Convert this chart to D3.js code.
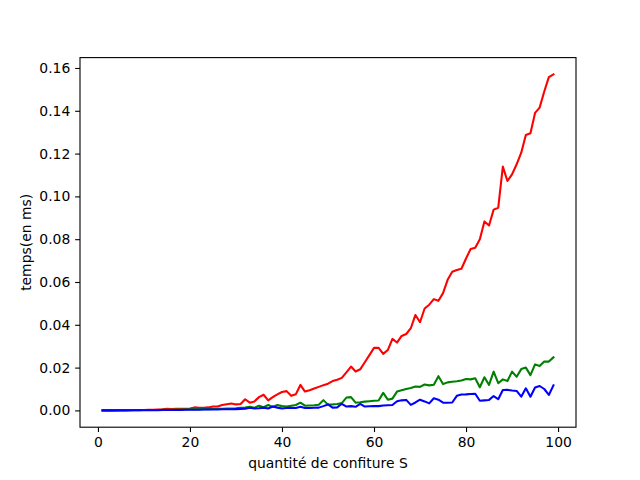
<!DOCTYPE html>
<html>
<head>
<meta charset="utf-8">
<script src="https://cdn.jsdelivr.net/npm/d3@7"></script>
<style>
  body { margin: 0; background: #fff; }
  svg { display: block; font-family: "DejaVu Sans", sans-serif; }
</style>
</head>
<body>
<svg id="chart" width="640" height="480"></svg>
<script>
// quantité de confiture S = 1..99
const sizes = d3.range(1, 100);

// temps (en ms) for the three versions
const redTimes = [
  0.0000, 0.0000, 0.0000, 0.0001, 0.0001, 0.0001, 0.0001, 0.0002, 0.0002, 0.0002,
  0.0003, 0.0003, 0.0004, 0.0005, 0.0007, 0.0006, 0.0007, 0.0007, 0.0008, 0.0009,
  0.0014, 0.0012, 0.0012, 0.0014, 0.0018, 0.0018, 0.0025, 0.0029, 0.0032, 0.0028,
  0.0030, 0.0052, 0.0036, 0.0042, 0.0062, 0.0073, 0.0047, 0.0062, 0.0075, 0.0086,
  0.0090, 0.0068, 0.0075, 0.0119, 0.0088, 0.0094, 0.0102, 0.0110, 0.0118, 0.0125,
  0.0137, 0.0143, 0.0152, 0.0178, 0.0205, 0.0182, 0.0192, 0.0225, 0.0258, 0.0292,
  0.0292, 0.0264, 0.0282, 0.0334, 0.0317, 0.0348, 0.0357, 0.0384, 0.0446, 0.0412,
  0.0476, 0.0494, 0.0520, 0.0512, 0.0548, 0.0610, 0.0648, 0.0656, 0.0662, 0.0710,
  0.0754, 0.0760, 0.0800, 0.0883, 0.0864, 0.0938, 0.0947, 0.1139, 0.1072, 0.1103,
  0.1150, 0.1204, 0.1287, 0.1295, 0.1390, 0.1415, 0.1490, 0.1557, 0.1570
];

const greenTimes = [
  0.0000, 0.0000, 0.0000, 0.0000, 0.0001, 0.0001, 0.0001, 0.0001, 0.0001, 0.0002,
  0.0002, 0.0002, 0.0002, 0.0003, 0.0003, 0.0003, 0.0004, 0.0004, 0.0004, 0.0005,
  0.0005, 0.0006, 0.0006, 0.0006, 0.0007, 0.0007, 0.0008, 0.0009, 0.0009, 0.0010,
  0.0012, 0.0013, 0.0017, 0.0012, 0.0022, 0.0015, 0.0025, 0.0016, 0.0025, 0.0020,
  0.0018, 0.0022, 0.0025, 0.0036, 0.0022, 0.0023, 0.0024, 0.0026, 0.0048, 0.0027,
  0.0028, 0.0030, 0.0034, 0.0060, 0.0062, 0.0036, 0.0038, 0.0041, 0.0043, 0.0045,
  0.0046, 0.0082, 0.0050, 0.0055, 0.0088, 0.0094, 0.0100, 0.0105, 0.0112, 0.0110,
  0.0121, 0.0117, 0.0120, 0.0160, 0.0123, 0.0131, 0.0134, 0.0136, 0.0140, 0.0147,
  0.0145, 0.0150, 0.0108, 0.0155, 0.0119, 0.0181, 0.0127, 0.0145, 0.0137, 0.0181,
  0.0157, 0.0193, 0.0200, 0.0165, 0.0215, 0.0207, 0.0228, 0.0228, 0.0248
];

const blueTimes = [
  0.0000, 0.0000, 0.0000, 0.0000, 0.0000, 0.0000, 0.0001, 0.0001, 0.0001, 0.0001,
  0.0001, 0.0001, 0.0001, 0.0002, 0.0002, 0.0002, 0.0002, 0.0002, 0.0003, 0.0003,
  0.0003, 0.0003, 0.0004, 0.0004, 0.0004, 0.0004, 0.0005, 0.0005, 0.0005, 0.0006,
  0.0007, 0.0008, 0.0012, 0.0009, 0.0010, 0.0013, 0.0009, 0.0018, 0.0013, 0.0009,
  0.0011, 0.0012, 0.0011, 0.0017, 0.0011, 0.0011, 0.0012, 0.0013, 0.0020, 0.0028,
  0.0013, 0.0014, 0.0031, 0.0018, 0.0020, 0.0017, 0.0031, 0.0018, 0.0019, 0.0020,
  0.0020, 0.0023, 0.0024, 0.0025, 0.0043, 0.0047, 0.0049, 0.0026, 0.0037, 0.0050,
  0.0042, 0.0033, 0.0057, 0.0050, 0.0036, 0.0036, 0.0037, 0.0068, 0.0074, 0.0075,
  0.0077, 0.0078, 0.0045, 0.0047, 0.0049, 0.0067, 0.0052, 0.0095, 0.0096, 0.0093,
  0.0091, 0.0064, 0.0103, 0.0064, 0.0107, 0.0114, 0.0100, 0.0072, 0.0117
];

const xTicks = [0, 20, 40, 60, 80, 100];
const yTicks = [0, 0.02, 0.04, 0.06, 0.08, 0.10, 0.12, 0.14, 0.16];

const series = [
  { values: redTimes, color: "#ff0000" },
  { values: greenTimes, color: "#008000" },
  { values: blueTimes, color: "#0000ff" }
];

// matplotlib default subplot box
const margin = { left: 80, right: 64, top: 57.6, bottom: 52.8 };
const width = 640, height = 480;

const svg = d3.select("#chart");

// 5% padding like matplotlib autoscale
const xMin = d3.min(sizes), xMax = d3.max(sizes);
const xPad = (xMax - xMin) * 0.05;
const allVals = redTimes.concat(greenTimes, blueTimes);
const yMin = d3.min(allVals), yMax = d3.max(allVals);
const yPad = (yMax - yMin) * 0.05;

const x = d3.scaleLinear()
  .domain([xMin - xPad, xMax + xPad])
  .range([margin.left, width - margin.right]);
const y = d3.scaleLinear()
  .domain([yMin - yPad, yMax + yPad])
  .range([height - margin.bottom, margin.top]);

const line = d3.line()
  .x((d, i) => x(sizes[i]))
  .y(d => y(d));

svg.append("g")
  .selectAll("path")
  .data(series)
  .join("path")
    .attr("fill", "none")
    .attr("stroke", d => d.color)
    .attr("stroke-width", 2.08)
    .attr("stroke-linejoin", "round")
    .attr("stroke-linecap", "square")
    .attr("d", d => line(d.values));

const xAxis = svg.append("g")
  .attr("transform", `translate(0,${height - margin.bottom})`)
  .call(d3.axisBottom(x).tickValues(xTicks).tickFormat(d3.format("d"))
    .tickSizeInner(4.86).tickSizeOuter(0).tickPadding(4.86));

const yAxis = svg.append("g")
  .attr("transform", `translate(${margin.left},0)`)
  .call(d3.axisLeft(y).tickValues(yTicks).tickFormat(d3.format(".2f"))
    .tickSizeInner(4.86).tickSizeOuter(0).tickPadding(4.86));

[xAxis, yAxis].forEach(g => {
  g.select(".domain").remove();
  g.selectAll(".tick line").attr("stroke", "#000").attr("stroke-width", 1.1);
  g.selectAll(".tick text")
    .attr("fill", "#000")
    .style("font-size", "13.9px")
    .style("font-family", "'DejaVu Sans', sans-serif");
});

// frame
svg.append("rect")
  .attr("x", margin.left)
  .attr("y", margin.top)
  .attr("width", width - margin.left - margin.right)
  .attr("height", height - margin.top - margin.bottom)
  .attr("fill", "none")
  .attr("stroke", "#000")
  .attr("stroke-width", 1.1);

svg.append("text")
  .attr("x", (margin.left + width - margin.right) / 2)
  .attr("y", 468)
  .attr("text-anchor", "middle")
  .style("font-size", "13.9px")
  .text("quantité de confiture S");

svg.append("text")
  .attr("transform", `translate(31,${(margin.top + height - margin.bottom) / 2}) rotate(-90)`)
  .attr("text-anchor", "middle")
  .style("font-size", "13.9px")
  .text("temps(en ms)");
</script>
</body>
</html>
